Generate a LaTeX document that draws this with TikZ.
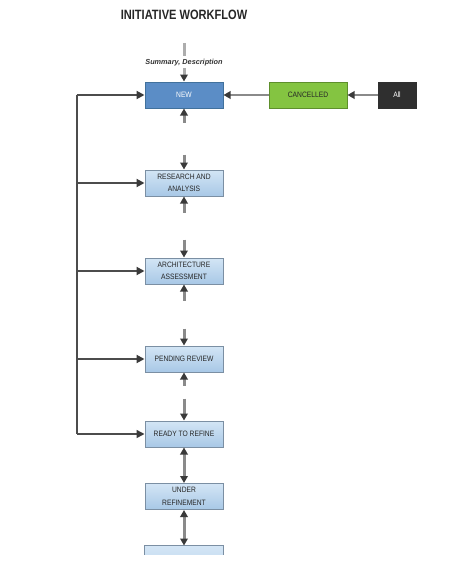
\documentclass[tikz,border=0pt]{standalone}
\usepackage{fontspec}
\setmainfont{Liberation Sans}
\newfontfamily\narrowfont[FakeStretch=0.86]{Liberation Sans}
\newfontfamily\titlefont[FakeStretch=0.82]{Liberation Sans}
\usetikzlibrary{arrows.meta,positioning,calc}

\definecolor{newblue}{HTML}{5B8DC6}
\definecolor{newedge}{HTML}{41719C}
\definecolor{statetop}{HTML}{D3E5F5}
\definecolor{statebot}{HTML}{A8C8E6}
\definecolor{stateedge}{HTML}{7B8FA3}
\definecolor{cancelgreen}{HTML}{84C441}
\definecolor{canceledge}{HTML}{5E8F2C}
\definecolor{alldark}{HTML}{2F2F2F}
\definecolor{linegray}{HTML}{8A8A8A}
\definecolor{tipgray}{HTML}{3A3A3A}

\begin{document}
\begin{tikzpicture}[
    x=1pt, y=-1pt,
    node distance=61pt and 45pt,
    state/.style={rectangle, draw=stateedge, line width=1pt, top color=statetop, bottom color=statebot,
        minimum width=78pt, minimum height=26pt, align=center, font=\narrowfont\fontsize{7.8}{12.5}\selectfont, text=black!85, inner sep=1pt},
    newstate/.style={state, top color=newblue, bottom color=newblue, draw=newedge, text=white},
    cancelstate/.style={state, top color=cancelgreen, bottom color=cancelgreen, draw=canceledge},
    allstate/.style={state, top color=alldark, bottom color=alldark, draw=alldark, text=white, minimum width=38pt},
    stub/.style={-{Triangle[length=7pt, width=7.5pt, color=tipgray]}, draw=linegray, line width=3pt},
    twoway/.style={{Triangle[length=7pt, width=7.5pt, color=tipgray]}-{Triangle[length=7pt, width=7.5pt, color=tipgray]}, draw=linegray, line width=3pt},
    feed/.style={-{Triangle[length=8pt, width=8pt, color=tipgray]}, draw=black!70, line width=2pt},
    trunk/.style={draw=black!70, line width=2pt}
]
\useasboundingbox (0,0) rectangle (460,578);

% Title
\node[font=\titlefont\bfseries\fontsize{13.5}{15}\selectfont, text=black!85] (title) at (184,14.5) {INITIATIVE WORKFLOW};

% States
\node[newstate] (new) at (184,95) {NEW};
\node[state, below=of new] (research) {RESEARCH AND\\ANALYSIS};
\node[state, below=of research] (arch) {ARCHITECTURE\\ASSESSMENT};
\node[state, below=of arch] (pending) {PENDING REVIEW};
\node[state, below=48pt of pending] (ready) {READY TO REFINE};
\node[state, below=35.5pt of ready] (under) {UNDER\\REFINEMENT};
% cut-off state at the page edge
\node[state, draw=none, minimum height=8pt, top color=statetop, bottom color=statetop!85!statebot, below=35.5pt of under] (next) {};
\draw[stateedge, line width=1pt] (next.south west) |- (next.north east) -- (next.south east);

% Cancel path
\node[cancelstate, right=of new] (cancel) {CANCELLED};
\node[allstate, right=30pt of cancel] (all) {All};

% Input
\coordinate (src) at (184,43);
\draw[stub, draw=linegray!70] (src) -- node[fill=white, inner sep=2.5pt, font=\bfseries\itshape\fontsize{7.3}{8}\selectfont, text=black!80] (inputs) {Summary, Description} (new);

% Arrows
\draw[stub, line width=2.4pt] (all) -- (cancel);
\draw[stub, line width=2.4pt] (cancel) -- (new);

% Stubs between states
\coordinate[below=14pt of new] (s1);
\coordinate[above=15pt of research] (s2);
\coordinate[below=16pt of research] (s3);
\coordinate[above=18pt of arch] (s4);
\coordinate[below=16pt of arch] (s5);
\coordinate[above=17pt of pending] (s6);
\coordinate[below=13pt of pending] (s7);
\coordinate[above=22pt of ready] (s8);
\draw[stub] (s1) -- (new);
\draw[stub] (s2) -- (research);
\draw[stub] (s3) -- (research);
\draw[stub] (s4) -- (arch);
\draw[stub] (s5) -- (arch);
\draw[stub] (s6) -- (pending);
\draw[stub] (s7) -- (pending);
\draw[stub] (s8) -- (ready);
\draw[twoway] (ready) -- (under);
\draw[twoway] (under) -- (next);

% Return line
\foreach \n/\s in {1/new, 2/research, 3/arch, 4/pending, 5/ready}
  \coordinate (t\n) at ($(\s.west)+(-68pt,0)$);
\draw[trunk] (t1) -- (t5);
\foreach \n/\s in {1/new, 2/research, 3/arch, 4/pending}
  \draw[feed] (t\n) -- (\s);
\draw[feed, line width=1.5pt] (t5) -- (ready);

\end{tikzpicture}
\end{document}
